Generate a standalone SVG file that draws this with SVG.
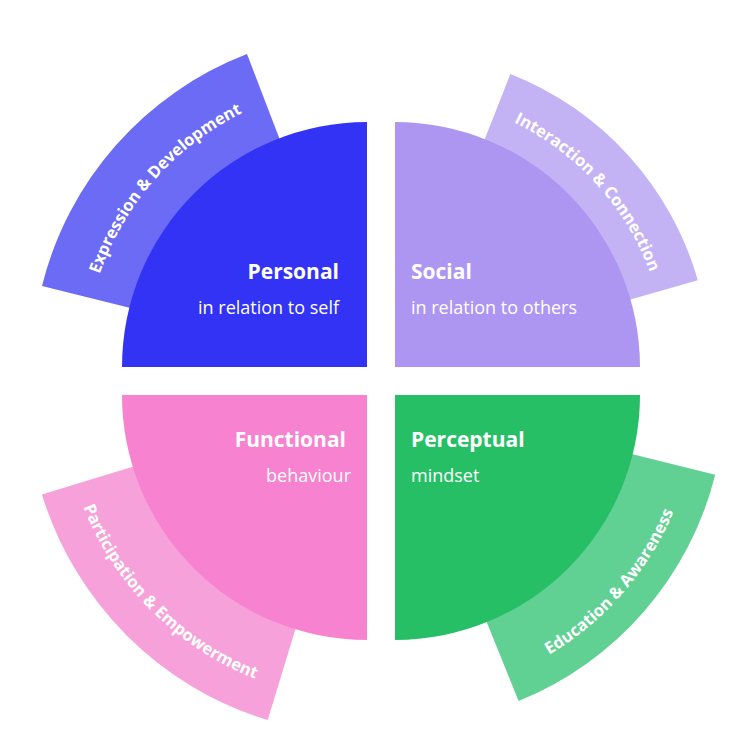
<svg xmlns="http://www.w3.org/2000/svg" width="750" height="750" viewBox="0 0 750 750">
<style>
.t{font-family:"Open Sans","Liberation Sans",sans-serif;fill:#fff}
.h{font-size:21px;font-weight:bold}
.s{font-size:18px}
.b{font-size:16.5px;font-weight:bold}
</style>
<defs>
<path id="pE" d="M92.4,298.5 A283,283 0 0 1 265.7,102.8"/>
<path id="pS" d="M494.7,114 A272,272 0 0 1 656.4,292"/>
<path id="pP" d="M508.1,675 A302,302 0 0 0 688,468.1"/>
<path id="pF" d="M75.3,484.2 A305,305 0 0 0 277.8,686.7"/>
</defs>
<rect width="750" height="750" fill="#fff"/>
<g id="band-expression">
<path d="M367,367 L247,54.1 A335,335 0 0 0 42,286 Z" fill="#6B6BF5"/>
<text class="t b"><textPath href="#pE" startOffset="50%" text-anchor="middle">Expression &amp; Development</textPath></text>
</g>
<g id="band-interaction">
<path d="M395,367 L510.4,74 A315,315 0 0 1 697.8,280.2 Z" fill="#C3B3F5"/>
<text class="t b"><textPath href="#pS" startOffset="50%" text-anchor="middle">Interaction &amp; Connection</textPath></text>
</g>
<g id="band-education">
<path d="M395,395 L715.2,474.8 A330,330 0 0 1 518.6,701 Z" fill="#61D193"/>
<text class="t b"><textPath href="#pP" startOffset="50%" text-anchor="middle">Education &amp;  Awareness</textPath></text>
</g>
<g id="band-participation">
<path d="M367,395 L41.9,494.4 A340,340 0 0 0 267.7,720.1 Z" fill="#F7A1DA"/>
<text class="t b"><textPath href="#pF" startOffset="50%" text-anchor="middle">Participation &amp; Empowerment</textPath></text>
</g>
<g id="personal">
<path d="M367,367 L122,367 A245,245 0 0 1 367,122 Z" fill="#3333F5"/>
<text class="t h" x="339" y="279" text-anchor="end">Personal</text>
<text class="t s" x="339" y="314" text-anchor="end">in relation to self</text>
</g>
<g id="social">
<path d="M395,367 L395,122 A245,245 0 0 1 640,367 Z" fill="#AD96F2"/>
<text class="t h" x="411" y="279">Social</text>
<text class="t s" x="411" y="314">in relation to others</text>
</g>
<g id="functional">
<path d="M367,395 L367,640 A245,245 0 0 1 122,395 Z" fill="#F782CF"/>
<text class="t h" x="346" y="447" text-anchor="end">Functional</text>
<text class="t s" x="351" y="482" text-anchor="end">behaviour</text>
</g>
<g id="perceptual">
<path d="M395,395 L640,395 A245,245 0 0 1 395,640 Z" fill="#26BF66"/>
<text class="t h" x="411" y="447">Perceptual</text>
<text class="t s" x="411" y="482">mindset</text>
</g>
<g id="connectors"/>
</svg>
